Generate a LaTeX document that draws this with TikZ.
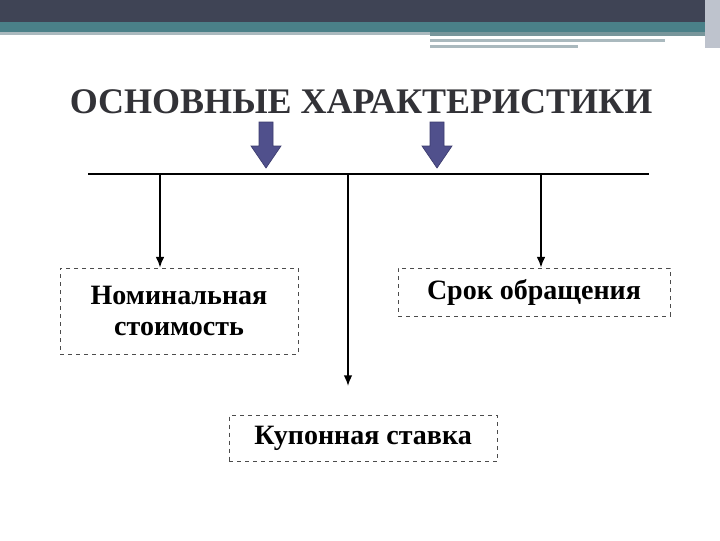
\documentclass[tikz,border=0pt]{standalone}
\usepackage{fontspec}
\setmainfont{Liberation Serif}
\usetikzlibrary{arrows.meta}
\definecolor{cdark}{RGB}{63,68,85}
\definecolor{cteal}{RGB}{74,128,136}
\definecolor{clight}{RGB}{170,185,190}
\definecolor{cmid}{RGB}{120,150,155}
\definecolor{cside}{RGB}{190,195,205}
\definecolor{ctitle}{RGB}{50,50,55}
\definecolor{cbfill}{RGB}{80,80,140}
\definecolor{cbdraw}{RGB}{60,60,110}
\begin{document}
\begin{tikzpicture}[x=0.75pt,y=-0.75pt,
  box/.style={draw=black!70,dashed,line width=0.6pt,align=center,font=\bfseries\fontsize{21}{23}\selectfont,inner sep=0pt},
  conn/.style={line width=1.3pt,-{Latex[length=8pt,width=6.5pt]}},
  barrow/.style={fill=cbfill,draw=cbdraw,line width=0.5pt}]
\useasboundingbox (0,0) rectangle (720,540);
\fill[white] (0,0) rectangle (720,540);
\fill[cdark] (0,0) rectangle (720,22);
\fill[cteal] (0,22) rectangle (705,32);
\fill[clight] (0,32) rectangle (430,35);
\fill[cmid] (430,32) rectangle (705,36);
\fill[clight] (430,39) rectangle (665,42);
\fill[clight] (430,45) rectangle (578,48);
\fill[cside] (705,0) rectangle (720,48);
\node[font=\bfseries\fontsize{27}{30}\selectfont,text=ctitle] (title) at (361,102) {ОСНОВНЫЕ ХАРАКТЕРИСТИКИ};
\foreach \x in {266,437}
  \draw[barrow] (\x-7,122) -- (\x+7,122) -- (\x+7,146) -- (\x+15,146) -- (\x,168) -- (\x-15,146) -- (\x-7,146) -- cycle;
\coordinate (hl) at (88,174); \coordinate (hr) at (649,174);
\draw[line width=1.3pt] (hl) -- (hr);
\node[box,minimum width=178.5pt,minimum height=64.5pt] (b1) at (179,311) {Номинальная\\стоимость};
\node[box,minimum width=204pt,minimum height=36pt] (b2) at (534,292) {Срок обращения};
\node[box,minimum width=201pt,minimum height=35pt] (b3) at (363,438.5) {Купонная ставка};
\coordinate (t1) at (160,174); \coordinate (t2) at (348,174); \coordinate (t3) at (541,174);
\coordinate (e2) at (348,386);
\draw[conn] (t1) -- (t1 |- b1.north);
\draw[conn] (t2) -- (e2);
\draw[conn] (t3) -- (t3 |- b2.north);
\end{tikzpicture}
\end{document}
